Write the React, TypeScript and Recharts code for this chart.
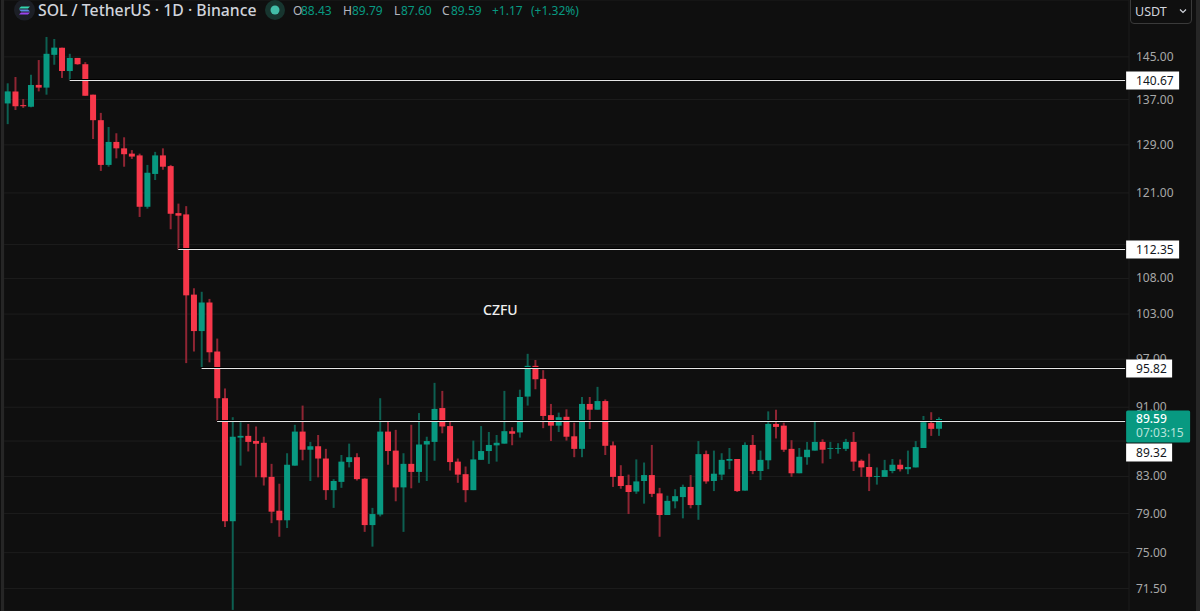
import React from 'react';
import { ComposedChart, Bar, Cell, XAxis, YAxis, CartesianGrid, ReferenceLine } from 'recharts';

const WIDTH = 1200;
const HEIGHT = 611;
const FONT = '"Noto Sans", Roboto, sans-serif';

const UP = '#089981';
const DOWN = '#f7374a';
const UP_WICK = '#0d5f51';
const DOWN_WICK = '#8f2533';

const days = [
  '01-08', '01-09', '01-10', '01-11', '01-12', '01-13', '01-14', '01-15', '01-16', '01-17', '01-18', '01-19',
  '01-20', '01-21', '01-22', '01-23', '01-24', '01-25', '01-26', '01-27', '01-28', '01-29', '01-30', '01-31',
  '02-01', '02-02', '02-03', '02-04', '02-05', '02-06', '02-07', '02-08', '02-09', '02-10', '02-11', '02-12', '02-13', '02-14',
  '02-15', '02-16', '02-17', '02-18', '02-19', '02-20', '02-21', '02-22', '02-23', '02-24', '02-25', '02-26', '02-27', '02-28',
  '03-01', '03-02', '03-03', '03-04', '03-05', '03-06', '03-07', '03-08', '03-09', '03-10', '03-11', '03-12', '03-13', '03-14', '03-15',
  '03-16', '03-17', '03-18', '03-19', '03-20', '03-21', '03-22', '03-23', '03-24', '03-25', '03-26', '03-27', '03-28', '03-29', '03-30', '03-31',
  '04-01', '04-02', '04-03', '04-04', '04-05', '04-06', '04-07', '04-08', '04-09', '04-10', '04-11', '04-12', '04-13', '04-14', '04-15',
  '04-16', '04-17', '04-18', '04-19', '04-20', '04-21', '04-22', '04-23', '04-24', '04-25', '04-26', '04-27', '04-28', '04-29', '04-30',
  '05-01', '05-02', '05-03', '05-04', '05-05', '05-06', '05-07', '05-08', '05-09', '05-10', '05-11', '05-12', '05-13', '05-14', '05-15',
  '05-16', '05-17', '05-18', '05-19', '05-20', '05-21', '05-22', '05-23', '05-24', '05-25', '05-26', '05-27', '05-28', '05-29', '05-30', '05-31',
  '06-01',
];

const opens = [
  136.3, 138.5, 136.0, 135.7, 139.7, 139.2, 145.4, 146.8, 142.3, 144.8,
  143.6, 137.9, 133.3, 125.6, 129.5, 128.4, 127.5, 127.2, 118.8, 124.1,
  127.2, 125.4, 117.8, 117.6, 105.7, 100.7, 104.6, 98.0, 92.1, 78.2,
  87.4, 87.6, 87.0, 86.8, 82.95, 79.3, 78.3, 84.2, 88.1, 86.0,
  86.4, 85.0, 81.5, 82.4, 84.6, 85.15, 82.75, 77.8, 78.9, 88.1,
  85.9, 81.8, 84.4, 83.5, 86.6, 86.9, 90.9, 88.75, 84.65, 83.25,
  81.5, 84.85, 85.85, 86.5, 86.7, 88.15, 88.0, 92.3, 96.15, 94.5,
  90.05, 88.8, 89.85, 87.55, 86.1, 91.4, 90.7, 91.75, 86.5, 83.05,
  82.05, 81.35, 82.5, 83.15, 81.15, 78.85, 80.3, 80.75, 81.85, 79.9,
  85.5, 82.5, 83.2, 84.75, 84.95, 81.45, 86.55, 83.6, 84.8, 89.0,
  88.8, 86.1, 83.35, 85.15, 85.9, 86.9, 86.1, 86.1, 86.1, 86.9,
  84.75, 84.05, 82.95, 82.95, 83.6, 84.3, 83.8, 84.0, 86.2, 89.1, 88.43,
];

const closes = [
  138.5, 135.8, 135.8, 139.7, 139.2, 145.6, 146.8, 142.3, 144.8, 143.6,
  137.7, 133.3, 125.6, 129.5, 128.4, 127.4, 127.0, 118.8, 124.3, 127.2,
  125.3, 117.7, 117.4, 105.6, 100.7, 104.6, 97.9, 92.1, 78.2, 87.5,
  87.6, 86.9, 86.7, 82.9, 79.2, 78.3, 84.3, 88.1, 86.0, 86.4,
  85.0, 81.5, 82.5, 84.65, 85.15, 82.7, 77.8, 78.95, 88.1, 85.85,
  81.8, 84.4, 83.5, 86.6, 87.0, 90.8, 88.7, 84.6, 83.2, 81.5,
  84.9, 85.85, 86.55, 86.8, 88.15, 87.85, 92.25, 96.15, 94.45, 89.95,
  88.8, 89.8, 87.5, 86.1, 91.4, 90.7, 91.75, 86.45, 82.95, 81.95,
  81.3, 82.45, 83.15, 81.1, 78.85, 80.35, 80.85, 81.85, 79.9, 85.5,
  82.45, 83.3, 84.85, 84.95, 81.4, 86.55, 83.6, 84.85, 89.0, 88.65,
  86.0, 83.35, 85.2, 86.0, 86.9, 86.0, 86.2, 86.2, 86.9, 84.65,
  84.0, 82.95, 83.05, 83.7, 84.3, 83.8, 84.05, 86.3, 89.2, 88.42, 89.59,
];

const highs = [
  140.0, 141.2, 137.1, 141.6, 144.4, 148.9, 148.5, 146.8, 145.6, 144.8,
  144.0, 137.9, 134.6, 132.1, 131.0, 130.3, 128.1, 127.5, 125.6, 127.8,
  128.4, 125.6, 119.3, 118.9, 106.6, 106.1, 105.1, 99.7, 93.3, 89.8,
  89.2, 89.0, 88.7, 87.5, 84.4, 82.2, 85.6, 88.9, 91.2, 86.9,
  87.7, 86.1, 82.7, 85.4, 86.7, 85.6, 82.8, 79.6, 92.1, 89.3,
  88.3, 85.6, 88.9, 90.3, 87.5, 94.0, 93.0, 89.3, 85.0, 84.1,
  87.05, 88.75, 88.05, 87.7, 93.0, 88.6, 93.15, 97.7, 96.9, 95.6,
  91.4, 90.35, 90.75, 89.15, 92.25, 92.25, 93.5, 91.95, 86.95, 84.25,
  83.2, 84.9, 84.55, 86.55, 81.75, 80.9, 81.6, 82.1, 83.15, 87.0,
  85.9, 85.9, 85.6, 86.2, 84.95, 86.85, 87.7, 85.9, 90.5, 90.7,
  89.15, 87.1, 86.2, 86.9, 89.3, 87.2, 86.9, 86.75, 87.25, 88.05,
  84.9, 85.55, 84.0, 84.85, 84.95, 84.9, 85.9, 87.0, 89.95, 90.4, 89.79,
];

const lows = [
  132.6, 135.1, 135.5, 135.6, 138.5, 137.9, 143.5, 141.0, 140.6, 143.5,
  137.7, 130.0, 124.6, 125.3, 126.7, 125.3, 126.6, 117.2, 118.5, 123.1,
  124.8, 115.3, 112.2, 96.5, 98.0, 96.0, 96.6, 89.4, 77.6, 69.5,
  84.2, 85.8, 82.9, 82.0, 78.0, 76.6, 77.5, 84.2, 84.8, 82.5,
  82.9, 80.45, 79.6, 81.75, 84.0, 82.55, 77.1, 75.6, 78.7, 84.3,
  80.3, 77.1, 81.7, 82.3, 82.5, 84.75, 87.9, 83.65, 82.3, 80.2,
  81.5, 84.85, 84.4, 84.65, 86.7, 86.5, 87.4, 91.2, 93.2, 88.5,
  87.0, 88.05, 87.05, 85.15, 85.15, 88.4, 90.7, 85.4, 81.85, 81.65,
  78.95, 81.1, 80.05, 80.75, 76.6, 78.85, 79.55, 78.5, 79.55, 78.35,
  82.2, 81.4, 82.6, 83.8, 81.3, 81.45, 83.25, 82.6, 83.8, 87.3,
  85.75, 82.95, 83.35, 84.3, 85.9, 84.45, 84.95, 85.55, 85.85, 83.6,
  82.95, 81.4, 82.1, 82.95, 83.35, 83.55, 83.25, 84.0, 86.2, 87.6, 87.60,
];

const priceTicks = [145, 137, 129, 121, 113, 108, 103, 97, 91, 87, 83, 79, 75, 71.5];
const hiddenPriceLabels = [113, 87]; // sit fully behind the level tags
const monthStarts = ['02-01', '03-01', '04-01', '05-01'];
const priceDomain = [69.4, 156.4];
const lastDay = days[days.length - 1];

// horizontal levels: price, first day, width of the tag
const levels = [
  { price: 140.67, from: '01-16', tagWidth: 53, tagOffset: 0 },
  { price: 112.35, from: '01-30', tagWidth: 53, tagOffset: 0 },
  { price: 95.82, from: '02-02', tagWidth: 46, tagOffset: 0 },
  { price: 89.32, from: '02-04', tagWidth: 46, tagOffset: 31 },
];

const rows = days.map((day, i) => {
  if (i >= opens.length) return { day, range: null, body: null, up: true };
  return {
    day,
    range: [lows[i], highs[i]],
    body: [Math.min(opens[i], closes[i]), Math.max(opens[i], closes[i])],
    up: closes[i] >= opens[i],
  };
});

const headerParts = [
  { text: 'O', x: 293, color: '#b2b5be' },
  { text: '88.43', x: 301, color: UP },
  { text: 'H', x: 343, color: '#b2b5be' },
  { text: '89.79', x: 352, color: UP },
  { text: 'L', x: 394, color: '#b2b5be' },
  { text: '87.60', x: 401, color: UP },
  { text: 'C', x: 442, color: '#b2b5be' },
  { text: '89.59', x: 451, color: UP },
  { text: '+1.17', x: 492, color: UP },
  { text: '(+1.32%)', x: 531, color: UP },
];

const LevelShape = (props: any, level: (typeof levels)[number]) => {
  const { x1, x2, y1 } = props;
  const right = Math.max(x1, x2);
  const left = Math.min(x1, x2);
  const y = Math.round(y1) + 0.5;
  const mid = y + level.tagOffset;
  return (
    <g>
      <line x1={left} x2={right} y1={y - 1} y2={y - 1} stroke="#000000" strokeWidth={1} />
      <line x1={left} x2={right} y1={y} y2={y} stroke="#e6e6e6" strokeWidth={1} />
      <rect x={right + 1} y={mid - 9} width={level.tagWidth} height={18} fill="#ffffff" />
      <text x={right + 11} y={mid + 4.5} fill="#131722" fontSize={12} fontFamily={FONT}>
        {level.price.toFixed(2)}
      </text>
    </g>
  );
};

const LastPriceTag = (props: any) => {
  const { x1, x2, y1 } = props;
  const right = Math.max(x1, x2);
  return (
    <g>
      <rect x={right + 1} y={y1 - 8.5} width={64} height={32} rx={1.5} fill={UP} />
      <text x={right + 11} y={y1 + 4} fill="#ffffff" fontSize={12} fontWeight={500} fontFamily={FONT}>
        89.59
      </text>
      <text x={right + 11} y={y1 + 18.5} fill="#b9e3db" fontSize={12} fontFamily={FONT}>
        07:03:15
      </text>
    </g>
  );
};

const PriceTick = (props: any) => {
  const { x, y, payload } = props;
  if (hiddenPriceLabels.includes(payload.value)) return <g />;
  return (
    <text x={x} y={y + 4} fill="#a8a8a8" fontSize={12} fontFamily={FONT}>
      {payload.value.toFixed(2)}
    </text>
  );
};

export default function App() {
  return (
    <div style={{ position: 'absolute', left: 0, top: 0, width: WIDTH, height: HEIGHT, background: '#0f0f0f', overflow: 'hidden' }}>
      <ComposedChart
        width={WIDTH}
        height={HEIGHT}
        data={rows}
        margin={{ top: 0, right: 0, bottom: 0, left: 3.7 }}
      >
        <CartesianGrid stroke="#1d1d1d" strokeWidth={1} xAxisId="body" yAxisId="price" />
        <XAxis
          xAxisId="body"
          dataKey="day"
          ticks={monthStarts}
          interval={0}
          tick={false}
          tickLine={false}
          axisLine={false}
          height={0}
        />
        <XAxis xAxisId="wick" dataKey="day" hide />
        <YAxis
          yAxisId="price"
          orientation="right"
          type="number"
          scale="log"
          domain={priceDomain}
          ticks={priceTicks}
          interval={0}
          allowDataOverflow
          width={71}
          axisLine={false}
          tickLine={false}
          tickMargin={1}
          tick={PriceTick}
        />
        <Bar xAxisId="wick" yAxisId="price" dataKey="range" barSize={2} isAnimationActive={false}>
          {rows.map((r) => (
            <Cell key={r.day} fill={r.up ? UP_WICK : DOWN_WICK} />
          ))}
        </Bar>
        <Bar xAxisId="body" yAxisId="price" dataKey="body" barSize={6} isAnimationActive={false}>
          {rows.map((r) => (
            <Cell key={r.day} fill={r.up ? UP : DOWN} />
          ))}
        </Bar>
        {levels.map((level) => (
          <ReferenceLine
            key={level.price}
            xAxisId="body"
            yAxisId="price"
            zIndex={2000}
            segment={[
              { x: level.from, y: level.price },
              { x: lastDay, y: level.price },
            ]}
            ifOverflow="visible"
            shape={(p: any) => LevelShape(p, level)}
          />
        ))}
        <ReferenceLine
          xAxisId="body"
          yAxisId="price"
          zIndex={2000}
          segment={[
            { x: lastDay, y: 89.59 },
            { x: lastDay, y: 89.59 },
          ]}
          ifOverflow="visible"
          shape={LastPriceTag}
        />
      </ComposedChart>

      <svg width={30} height={24} style={{ position: 'absolute', left: 10, top: 0 }}>
        <circle cx={14.5} cy={10} r={10.5} fill="#1c1f26" />
        <path d="M11 6.5 H20 L18 8.5 H9 Z" fill="#35d6b0" />
        <path d="M9 9.5 H18 L20 11.5 H11 Z" fill="#5a8be0" />
        <path d="M11 12.5 H20 L18 14.5 H9 Z" fill="#9a45f0" />
      </svg>
      <div style={{ position: 'absolute', left: 38, top: -1, fontFamily: FONT, fontSize: 15.8, fontWeight: 500, color: '#d1d4dc', whiteSpace: 'nowrap' }}>
        SOL / TetherUS · 1D · Binance
      </div>
      <svg width={24} height={24} style={{ position: 'absolute', left: 263, top: -2 }}>
        <circle cx={12} cy={12} r={10} fill="#17352f" />
        <circle cx={12} cy={12} r={4.5} fill="#42bda8" />
      </svg>
      {headerParts.map((part) => (
        <div
          key={part.text + part.x}
          style={{ position: 'absolute', left: part.x, top: 2, fontFamily: FONT, fontSize: 12, color: part.color, whiteSpace: 'nowrap' }}
        >
          {part.text}
        </div>
      ))}
      <div style={{ position: 'absolute', left: 483, top: 300, fontFamily: FONT, fontSize: 14, fontWeight: 500, color: '#f0f0f0' }}>
        CZFU
      </div>
      <div
        style={{
          position: 'absolute',
          left: 1130,
          top: -8,
          width: 62,
          height: 32,
          border: '1px solid #3a3a3a',
          borderRadius: 4,
          boxSizing: 'border-box',
          fontFamily: FONT,
          fontSize: 12.5,
          color: '#d1d4dc',
          paddingLeft: 4,
          paddingTop: 10,
        }}
      >
        USDT
      </div>
      <svg width={10} height={8} style={{ position: 'absolute', left: 1179, top: 8 }}>
        <path d="M1 1.5 L4 4.5 L7 1.5" stroke="#d1d4dc" strokeWidth={1.2} fill="none" />
      </svg>
      <div style={{ position: 'absolute', left: 1, top: 0, width: 3, height: HEIGHT, background: '#262626' }} />
      <div style={{ position: 'absolute', left: 1196, top: 0, width: 4, height: HEIGHT, background: '#262626' }} />
    </div>
  );
}
